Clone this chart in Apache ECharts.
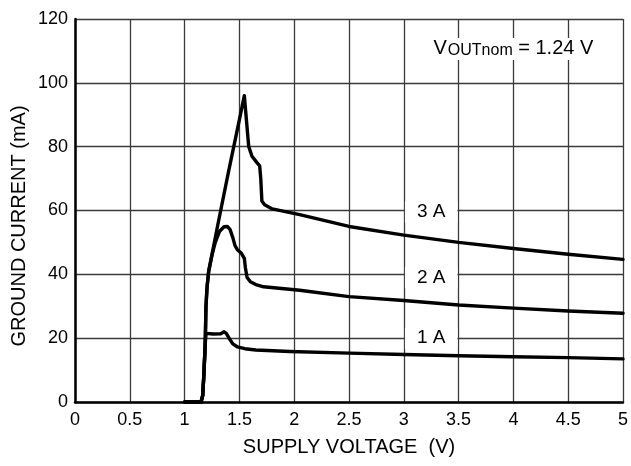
<!DOCTYPE html>
<html>
<head>
<meta charset="utf-8">
<script src="https://cdn.jsdelivr.net/npm/echarts@6/dist/echarts.min.js"></script>
<style>
html,body{margin:0;padding:0;background:#fff;}
#chart{width:631px;height:466px;}
</style>
</head>
<body>
<div id="chart"></div>
<script>
// Supply voltage (V) and ground current (mA)
const v1A = [1.0, 1.15, 1.165, 1.175, 1.188, 1.195, 1.21, 1.26, 1.33, 1.36, 1.38, 1.41, 1.44, 1.48, 1.55, 1.65, 1.96, 2.5, 3.0, 3.5, 4.0, 4.5, 5.0];
const i1A = [0, 0, 2, 8, 18, 21.5, 21.8, 21.3, 21.4, 22, 21.5, 19.8, 18.2, 17.3, 16.7, 16.3, 15.8, 15.3, 14.9, 14.5, 14.2, 13.9, 13.5];

const v2A = [1.0, 1.15, 1.165, 1.175, 1.188, 1.195, 1.205, 1.22, 1.25, 1.28, 1.32, 1.36, 1.39, 1.415, 1.44, 1.46, 1.48, 1.52, 1.545, 1.555, 1.57, 1.60, 1.65, 1.72, 2.05, 2.5, 3.0, 3.5, 4.0, 4.5, 5.0];
const i2A = [0, 0, 2, 8, 18, 30, 36, 41, 46, 50, 53.5, 54.9, 55, 54, 51.5, 49, 47.8, 46.5, 45, 42, 39, 37.7, 36.8, 36.1, 35, 33, 31.8, 30.4, 29.4, 28.5, 27.8];

const v3A = [1.0, 1.15, 1.165, 1.175, 1.188, 1.195, 1.205, 1.22, 1.30, 1.40, 1.50, 1.545, 1.565, 1.585, 1.615, 1.66, 1.685, 1.695, 1.705, 1.73, 1.80, 2.05, 2.5, 3.0, 3.5, 4.0, 4.5, 5.0];
const i3A = [0, 0, 2, 8, 18, 30, 36, 41, 55, 72, 88.5, 96, 88, 80, 77, 75, 74, 70, 63, 61.8, 60.5, 58.7, 55, 52.3, 50, 48.1, 46.3, 44.7];

const seriesNames = ['1 A', '2 A', '3 A'];
const labelV = [3.25, 3.25, 3.25];
const labelI = [20, 39, 59.5];
const noteV = 4.0, noteI = 110.6;

const xMin = 0, xMax = 5, xStep = 0.5;
const yMin = 0, yMax = 120, yStep = 20;

const FONT = "'Liberation Sans', Arial, Helvetica, sans-serif";

function pairs(xs, ys) { return xs.map((x, k) => [x, ys[k]]); }
const allV = [v1A, v2A, v3A];
const allI = [i1A, i2A, i3A];

const series = seriesNames.map((name, k) => {
  const mpData = [{ coord: [labelV[k], labelI[k]], value: name }];
  if (k === 2) {
    mpData.push({
      coord: [noteV, noteI],
      value: 'note',
      label: {
        formatter: '{v|V}{s|OUTnom}{r| = 1.24 V}',
        backgroundColor: '#fff',
        padding: [0, 26, 1, 26],
        rich: {
          v: { fontSize: 20, fontFamily: FONT, color: '#000', lineHeight: 21, verticalAlign: 'top' },
          s: { fontSize: 16, fontFamily: FONT, color: '#000', lineHeight: 18, verticalAlign: 'bottom', padding: [8, 0, 0, 1] },
          r: { fontSize: 20, fontFamily: FONT, color: '#000', lineHeight: 21, verticalAlign: 'top' }
        }
      }
    });
  }
  return {
    name: name,
    type: 'line',
    data: pairs(allV[k], allI[k]),
    showSymbol: false,
    symbol: 'none',
    smooth: false,
    lineStyle: { color: '#000', width: 3.4, join: 'round', cap: 'round' },
    z: 3,
    markPoint: {
      symbol: 'rect',
      symbolSize: 0,
      silent: true,
      animation: false,
      label: {
        show: true,
        position: 'inside',
        formatter: p => p.value,
        color: '#000',
        fontSize: 19,
        fontFamily: FONT,
        backgroundColor: '#fff',
        padding: [1, 12, 1, 12]
      },
      data: mpData
    }
  };
});

const chart = echarts.init(document.getElementById('chart'), null, { renderer: 'canvas' });
chart.setOption({
  animation: false,
  backgroundColor: '#fff',
  grid: { left: 75, right: 8, top: 19, bottom: 64, containLabel: false },
  xAxis: {
    type: 'value',
    min: xMin, max: xMax, interval: xStep,
    name: 'SUPPLY VOLTAGE  (V)',
    nameLocation: 'middle',
    nameGap: 35,
    nameTextStyle: { fontSize: 20, fontFamily: FONT, color: '#000' },
    axisLine: { show: true, onZero: false, lineStyle: { color: '#000', width: 2.5 } },
    axisTick: { show: false },
    axisLabel: { fontSize: 18, fontFamily: FONT, color: '#000', margin: 9 },
    splitLine: { show: true, lineStyle: { color: '#3a3a3a', width: 1.3 } }
  },
  yAxis: {
    type: 'value',
    min: yMin, max: yMax, interval: yStep,
    axisLine: { show: true, onZero: false, lineStyle: { color: '#000', width: 2.5 } },
    axisTick: { show: false },
    axisLabel: { fontSize: 18, fontFamily: FONT, color: '#000', margin: 7 },
    splitLine: { show: true, lineStyle: { color: '#3a3a3a', width: 1.3 } }
  },
  graphic: [{
    type: 'text',
    rotation: Math.PI / 2,
    x: 19, y: 226,
    style: {
      text: 'GROUND CURRENT (mA)',
      fontSize: 20,
      fontFamily: FONT,
      fill: '#000',
      align: 'center',
      verticalAlign: 'middle'
    }
  }],
  series: series
});
</script>
</body>
</html>
